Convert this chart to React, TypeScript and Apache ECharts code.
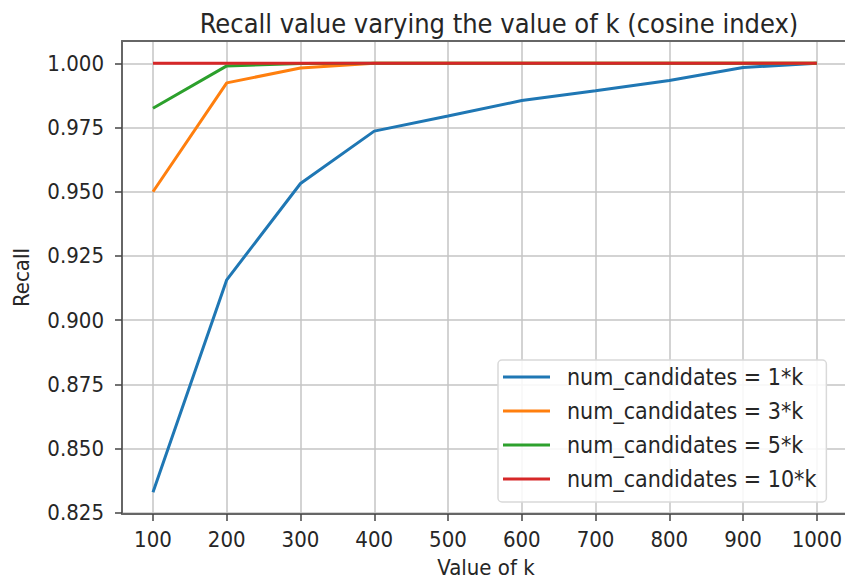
import React, { useEffect, useRef } from "react";
import * as echarts from "echarts";

const kValues = [100, 200, 300, 400, 500, 600, 700, 800, 900, 1000];
const recall1k = [0.833, 0.9157, 0.9532, 0.9736, 0.9795, 0.9855, 0.9893, 0.9933, 0.9984, 1.0];
const recall3k = [0.950, 0.9924, 0.9982, 1.0, 1.0, 1.0, 1.0, 1.0, 1.0, 1.0];
const recall5k = [0.9825, 0.9990, 0.9999, 1.0, 1.0, 1.0, 1.0, 1.0, 1.0, 1.0];
const recall10k = [1.0, 1.0, 1.0, 1.0, 1.0, 1.0, 1.0, 1.0, 1.0, 1.0];
const seriesNames = [
  "num_candidates = 1*k",
  "num_candidates = 3*k",
  "num_candidates = 5*k",
  "num_candidates = 10*k",
];
const seriesColors = ["#1f77b4", "#ff7f0e", "#2ca02c", "#d62728"];
const xTickValues = [100, 200, 300, 400, 500, 600, 700, 800, 900, 1000];
const yTickValues = [0.825, 0.85, 0.875, 0.9, 0.925, 0.95, 0.975, 1.0];

const FONT = "'DejaVu Sans Condensed', 'DejaVu Sans', sans-serif";
const TEXT = "#262626";

export default function App() {
  const ref = useRef<HTMLDivElement>(null);
  useEffect(() => {
    if (!ref.current) return;
    const chart = echarts.init(ref.current, undefined, { renderer: "svg" });
    const allSeries = [recall1k, recall3k, recall5k, recall10k];
    chart.setOption({
      animation: false,
      backgroundColor: "#ffffff",
      textStyle: { fontFamily: FONT },
      title: {
        text: "Recall value varying the value of k (cosine index)",
        left: 494,
        top: 5,
        textAlign: "center",
        textStyle: { fontFamily: FONT, fontSize: 27, fontWeight: "normal", color: TEXT },
      },
      grid: {
        left: 122,
        top: 41,
        width: 728,
        height: 473,
        show: false,
        outerBoundsMode: "none",
        containLabel: false,
      },
      legend: {
        orient: "vertical",
        left: 498,
        top: 360,
        data: seriesNames,
        icon: "rect",
        itemWidth: 47,
        itemHeight: 3,
        itemGap: 0,
        padding: [0, 10, 6, 5],
        backgroundColor: "rgba(255,255,255,0.85)",
        borderColor: "#d9d9d9",
        borderWidth: 1.5,
        borderRadius: 4,
        textStyle: {
          fontFamily: FONT,
          fontSize: 23,
          color: TEXT,
          lineHeight: 34,
          padding: [0, 0, 0, 12],
        },
      },
      xAxis: [
        {
          type: "value",
          min: 58,
          max: 1045,
          name: "Value of k",
          nameLocation: "middle",
          nameGap: 42,
          nameMoveOverlap: false,
          nameTextStyle: { fontFamily: FONT, fontSize: 22, color: TEXT },
          axisLine: { show: true, lineStyle: { color: "#666666", width: 2 } },
          axisTick: {
            show: true,
            length: 7,
            customValues: xTickValues,
            lineStyle: { color: "#444444", width: 1.5 },
          },
          axisLabel: {
            customValues: xTickValues,
            margin: 14,
            fontFamily: FONT,
            fontSize: 22,
            color: TEXT,
            formatter: (v: number) => String(v),
          },
          splitLine: { show: true, lineStyle: { color: "#c4c4c4", width: 1.5 } },
        },
        {
          type: "value",
          position: "top",
          min: 58,
          max: 1045,
          axisLine: { show: true, onZero: false, lineStyle: { color: "#666666", width: 2 } },
          axisTick: { show: false },
          axisLabel: { show: false },
          splitLine: { show: false },
        },
      ],
      yAxis: {
        type: "value",
        min: 0.8245,
        max: 1.0087,
        name: "Recall",
        nameLocation: "middle",
        nameGap: 90,
        nameRotate: 90,
        nameMoveOverlap: false,
        nameTextStyle: { fontFamily: FONT, fontSize: 22, color: TEXT },
        axisLine: { show: true, lineStyle: { color: "#666666", width: 2 } },
        axisTick: {
          show: true,
          length: 7,
          customValues: yTickValues,
          lineStyle: { color: "#444444", width: 1.5 },
        },
        axisLabel: {
          customValues: yTickValues,
          margin: 18,
          fontFamily: FONT,
          fontSize: 22,
          color: TEXT,
          formatter: (v: number) => v.toFixed(3),
        },
        splitLine: { show: true, lineStyle: { color: "#c4c4c4", width: 1.5 } },
      },
      series: allSeries.map((vals, i) => ({
        name: seriesNames[i],
        type: "line",
        xAxisIndex: 0,
        data: kValues.map((k, j) => [k, vals[j]]),
        showSymbol: false,
        symbol: "none",
        color: seriesColors[i],
        lineStyle: { color: seriesColors[i], width: 3 },
        z: 2 + i,
      })),
    });
    return () => chart.dispose();
  }, []);
  return (
    <div
      ref={ref}
      style={{ position: "fixed", left: 0, top: 0, width: 845, height: 582, overflow: "hidden" }}
    />
  );
}
